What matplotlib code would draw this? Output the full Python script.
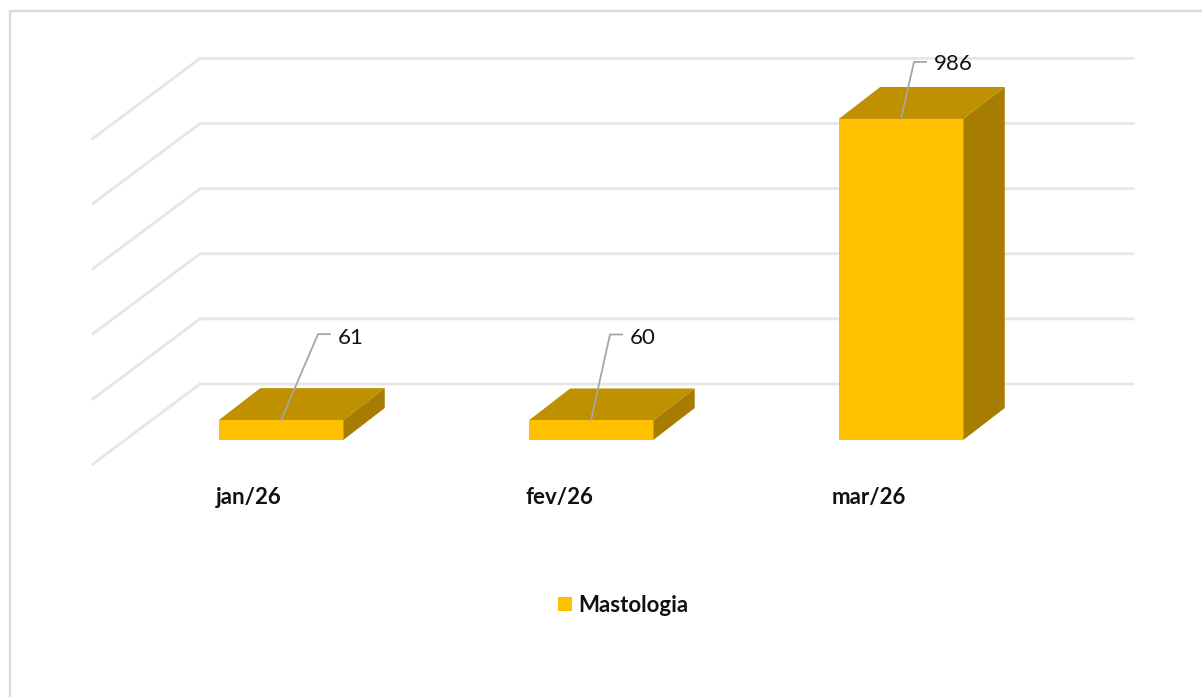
import matplotlib
matplotlib.use('Agg')
import matplotlib.pyplot as plt
from matplotlib.patches import Polygon, Rectangle

plt.rcParams['font.family'] = ['Lato', 'DejaVu Sans']

categories = ['jan/26', 'fev/26', 'mar/26']
values = [61, 60, 986]
series_name = 'Mastologia'
grid_values = [0, 200, 400, 600, 800, 1000]

W, H = 1202, 697
# one category = 310 px, 1000 units = 325.6 px
px_x = 310.0
px_y = 0.3256
x0_px, y0_px = 281.0, 440.0

# 3d offsets in data units
depth_x = 41.5 / px_x
depth_y = 32 / px_y
bar_w = 124.5 / px_x

fig = plt.figure(figsize=(W / 100, H / 100), dpi=100)
ax = fig.add_axes([0, 0, 1, 1])
ax.set_xlim(-x0_px / px_x, (W - x0_px) / px_x)
ax.set_ylim(-(H - y0_px) / px_y, y0_px / px_y)
ax.axis('off')


def dx(p):
    return p / px_x


def dy(p):
    return p / px_y


# outer frame, only top and left are visible
ax.plot([10 / W, 10 / W, 1], [0, 1 - 11 / H, 1 - 11 / H], transform=ax.transAxes,
        color='#d9d9d9', linewidth=1.6, solid_joinstyle='miter', zorder=1)

# wall and floor lines
wall_left = dx(200 - x0_px)
wall_right = dx(1133 - x0_px)
for g in grid_values:
    yb = g + dy(56)
    ax.plot([wall_left - dx(107), wall_left, wall_right], [yb - dy(80), yb, yb],
            color='#e6e6e6', linewidth=2, solid_joinstyle='miter', zorder=2)

# bars
for i, v in enumerate(values):
    l = i - bar_w / 2
    r = i + bar_w / 2
    ax.add_patch(Polygon([(l, v), (r, v), (r + depth_x, v + depth_y), (l + depth_x, v + depth_y)],
                         facecolor='#bf9000', edgecolor='none', zorder=3))
    ax.add_patch(Polygon([(r, 0), (r + depth_x, depth_y), (r + depth_x, v + depth_y), (r, v)],
                         facecolor='#a67d00', edgecolor='none', zorder=3))
    ax.add_patch(Rectangle((l, 0), bar_w, v, facecolor='#ffc000', edgecolor='none', zorder=4))

# data labels with leader lines, offsets in px from bar top centre
leader_ofs = [(37, 86), (19, 86), (13, 57)]
text_drop = [3.5, 3.5, 2]
for i, v in enumerate(values):
    ox, oy = leader_ofs[i]
    xk = i + dx(ox)
    yk = v + dy(oy)
    ax.plot([i, xk, xk + dx(12)], [v, yk, yk], color='#a6a6a6', linewidth=1.3, zorder=5)
    ax.text(xk + dx(20), yk - dy(text_drop[i]), str(v), ha='left', va='center', fontsize=16,
            color='#111111', zorder=6)

# category labels
for i, c in enumerate(categories):
    ax.text(i - dx(32), -dy(58), c, ha='center', va='center', fontsize=16, fontweight='bold',
            color='#111111')

# legend
ax.add_patch(Rectangle((dx(558 - x0_px), dy(y0_px - 611)), dx(14), dy(14), facecolor='#ffc000',
                       edgecolor='none'))
ax.text(dx(578 - x0_px), dy(y0_px - 605), series_name, ha='left', va='center', fontsize=16,
        fontweight='bold', color='#111111')

fig.savefig('out.png', dpi=100, facecolor='white')
